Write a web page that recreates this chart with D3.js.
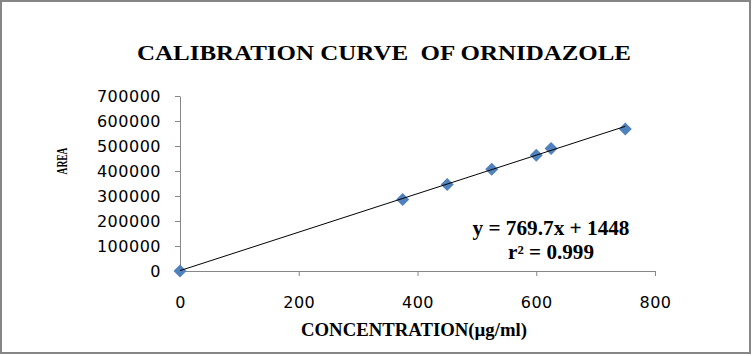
<!DOCTYPE html>
<html><head><meta charset="utf-8">
<script src="https://cdn.jsdelivr.net/npm/d3@7"></script>
<style>
html,body{margin:0;padding:0;background:#fff;}
svg{display:block;}
</style></head>
<body>
<script>
const concentration = [0, 375, 450, 525, 600, 625, 750];
const area = [0, 286000, 346000, 407000, 463000, 490000, 568000];
const xTicks = [0, 200, 400, 600, 800];
const yTicks = [0, 100000, 200000, 300000, 400000, 500000, 600000, 700000];
const slope = 769.7, intercept = 1448;
const titleText = "CALIBRATION CURVE  OF ORNIDAZOLE";
const xTitle = "CONCENTRATION(µg/ml)";
const yTitle = "AREA";
const eqText = "y = 769.7x + 1448";
const r2Text = "r² = 0.999";

const W = 753, H = 356;
const svg = d3.select("body").append("svg").attr("width", W).attr("height", H);

svg.append("rect").attr("x", 1).attr("y", 1).attr("width", 749).attr("height", 352)
  .attr("fill", "#fff").attr("stroke", "#868686").attr("stroke-width", 2);

const x = d3.scaleLinear().domain([0, 800]).range([180, 655]);
const y = d3.scaleLinear().domain([0, 700000]).range([271, 96]);

const axisColor = "#868686";
const tickFont = "'DejaVu Sans', sans-serif";

const gx = svg.append("g").attr("transform", `translate(0,${y(0)})`)
  .call(d3.axisBottom(x).tickValues(xTicks).tickSizeInner(5).tickSizeOuter(0).tickPadding(21).tickFormat(d3.format("d")));
const gy = svg.append("g").attr("transform", `translate(${x(0)},0)`)
  .call(d3.axisLeft(y).tickValues(yTicks).tickSizeInner(5).tickSizeOuter(0).tickPadding(14).tickFormat(d3.format("d")));

[gx, gy].forEach(g => {
  g.select(".domain").attr("stroke", axisColor).attr("stroke-width", 1);
  g.selectAll(".tick line").attr("stroke", axisColor);
  g.selectAll(".tick text").attr("fill", "#000").style("font-family", tickFont)
    .style("font-size", "16px").style("letter-spacing", "0.5px");
});
gx.selectAll(".tick").filter(d => d === 0).select("line").remove();

const line = d3.line().x(d => x(d)).y(d => y(slope * d + intercept));

svg.selectAll(".pt").data(concentration).enter().append("path")
  .attr("class", "pt")
  .attr("d", d3.symbol().type(d3.symbolSquare).size(85))
  .attr("transform", (d, i) => `translate(${x(d)},${y(area[i])}) rotate(45)`)
  .attr("fill", "#4F81BD");

svg.append("path").datum([d3.min(concentration), d3.max(concentration)])
  .attr("d", line).attr("fill", "none").attr("stroke", "#000").attr("stroke-width", 1);

const serif = "'Liberation Serif', 'Times New Roman', serif";
svg.append("text").attr("x", 384).attr("y", 60).attr("text-anchor", "middle")
  .style("font-family", serif).style("font-weight", "bold").style("font-size", "21px")
  .attr("textLength", 494).attr("lengthAdjust", "spacingAndGlyphs")
  .style("white-space", "pre").text(titleText);

svg.append("text").attr("x", 414).attr("y", 336).attr("text-anchor", "middle")
  .style("font-family", serif).style("font-weight", "bold").style("font-size", "18px")
  .attr("textLength", 226).attr("lengthAdjust", "spacingAndGlyphs").text(xTitle);

svg.append("text").attr("transform", "translate(67,161) rotate(-90)").attr("text-anchor", "middle")
  .style("font-family", serif).style("font-weight", "bold").style("font-size", "15px")
  .attr("textLength", 27).attr("lengthAdjust", "spacingAndGlyphs").text(yTitle);

svg.append("text").attr("x", 551).attr("y", 235).attr("text-anchor", "middle")
  .style("font-family", serif).style("font-weight", "bold").style("font-size", "20px")
  .attr("textLength", 157).attr("lengthAdjust", "spacingAndGlyphs").style("white-space", "pre").text(eqText);
svg.append("text").attr("x", 551).attr("y", 259).attr("text-anchor", "middle")
  .style("font-family", serif).style("font-weight", "bold").style("font-size", "20px")
  .attr("textLength", 86).attr("lengthAdjust", "spacingAndGlyphs").text(r2Text);
</script>
</body></html>
